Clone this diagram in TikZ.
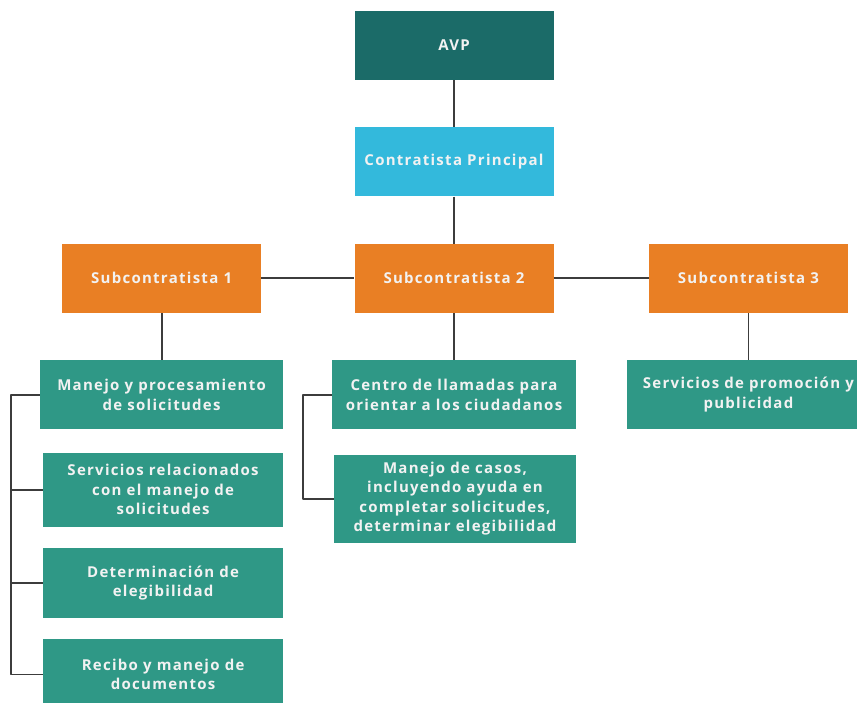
\documentclass[tikz,border=0pt]{standalone}
\usepackage{fontspec}
\setmainfont{Open Sans}[LetterSpace=8.5]
\usetikzlibrary{positioning, calc}
\definecolor{avpteal}{HTML}{1B6B68}
\definecolor{cpblue}{HTML}{33B9DC}
\definecolor{suborange}{HTML}{E97F24}
\definecolor{taskgreen}{HTML}{2F9886}
\definecolor{linegray}{HTML}{3C3C3C}

\begin{document}
\begin{tikzpicture}[node distance=47pt]
        \tikzstyle{box} = [rectangle, minimum width=199pt, minimum height=69pt, inner sep=0pt, text centered, align=center, text=white!95!black, font=\bfseries\fontsize{15}{19.5}\selectfont]
        \tikzstyle{top} = [box, fill=avpteal]
        \tikzstyle{main} = [box, fill=cpblue]
        \tikzstyle{sub} = [box, fill=suborange]
        \tikzstyle{task} = [box, fill=taskgreen, minimum width=241pt]
        \tikzstyle{link} = [line width=1.8pt, draw=linegray, line join=round]

        \useasboundingbox (0pt,0pt) rectangle (857pt,-702pt);

        \node (avp) [top] at (454pt,-45.5pt) {AVP};
        \node (cp) [main, below=of avp] {Contratista Principal};
        \node (sub2) [sub, below=of cp] {Subcontratista 2};
        \node (sub1) [sub, left=93pt of sub2] {Subcontratista 1};
        \node (sub3) [sub, right=95pt of sub2] {Subcontratista 3};

        \node (m1) [task, minimum width=243pt, below=of sub1] {Manejo y procesamiento\\de solicitudes};
        \node (m2) [task, minimum width=240pt, minimum height=74pt, below=23pt of m1.south east, anchor=north east] {Servicios relacionados\\con el manejo de\\solicitudes};
        \node (m3) [task, minimum width=240pt, minimum height=70pt, below=21pt of m2.south east, anchor=north east] {Determinación de\\elegibilidad};
        \node (m4) [task, minimum width=240pt, minimum height=70pt, below=21pt of m3.south east, anchor=north east] {Recibo y manejo de\\documentos};

        \node (cl) [task, minimum width=244pt, below=of sub2] {Centro de llamadas para\\orientar a los ciudadanos};
        \node (casos) [task, minimum width=242pt, minimum height=88pt, below=25pt of cl.south east, anchor=north east] {Manejo de casos,\\incluyendo ayuda en\\completar solicitudes,\\determinar elegibilidad};

        \node (prom) [task, minimum width=242pt, below=of sub3] {Servicios de promoción y\\publicidad};

        \draw [link] (avp) -- (cp);
        \draw [link] (cp) -- (sub2);
        \draw [link] (sub1) -- (sub2);
        \draw [link] (sub2) -- (sub3);
        \draw [link] (sub1.south) -- (sub1.south |- m1.north);
        \draw [link] (sub2) -- (cl);
        \draw [link] (sub3) -- (prom);

        \coordinate (lbar) at ($(m1.west)+(-29pt,0)$);
        \draw [link] (m1.west) -- (lbar) |- (m4.west);
        \draw [link] (lbar) |- (m2.west);
        \draw [link] (lbar) |- (m3.west);

        \coordinate (cbar) at ($(cl.west)+(-29pt,0)$);
        \draw [link] (cl.west) -- (cbar) |- (casos.west);
    \end{tikzpicture}
\end{document}
